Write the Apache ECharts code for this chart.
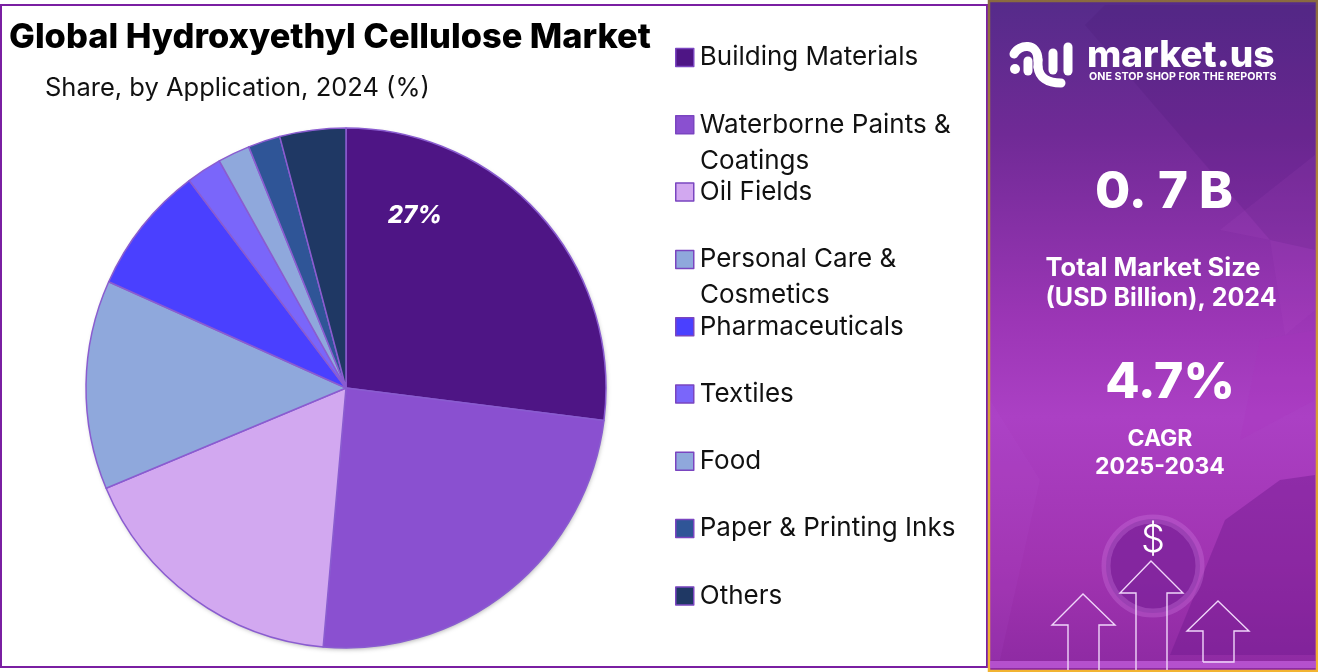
<!DOCTYPE html>
<html>
<head>
<meta charset="utf-8">
<title>Global Hydroxyethyl Cellulose Market</title>
<style>
  html, body { margin: 0; padding: 0; background: #fff; }
  #main { width: 1318px; height: 672px; }
</style>
<script src="https://cdn.jsdelivr.net/npm/echarts@6/dist/echarts.min.js"></script>
</head>
<body>
<div id="main"></div>
<script>
// share by application
const categories = ['Building Materials', 'Waterborne Paints & Coatings', 'Oil Fields', 'Personal Care & Cosmetics',
  'Pharmaceuticals', 'Textiles', 'Food', 'Paper & Printing Inks', 'Others'];
const shares = [27, 24.4, 17.3, 13, 8, 2.2, 2, 2, 4.1];
const colors = ['#4e1585', '#8a50d0', '#d2a8f0', '#8fa8dc', '#4a40ff', '#7a66fa', '#8fa8dc', '#2f5597', '#1f3864'];
const labelled = ['Building Materials'];
const legendLines = {
  'Waterborne Paints & Coatings': ['Waterborne Paints &', 'Coatings'],
  'Personal Care & Cosmetics': ['Personal Care &', 'Cosmetics']
};

const FONT = 'Inter, "Noto Sans", sans-serif';
const chart = echarts.init(document.getElementById('main'));

const shadowText = (text, x, y, size, weight) => ({
  type: 'text', x, y, z: 20,
  style: {
    text, fill: '#fff', font: weight + ' ' + size + 'px ' + FONT,
    textAlign: 'center', textVerticalAlign: 'middle',
    shadowColor: 'rgba(40,0,70,0.55)', shadowBlur: 5, shadowOffsetX: 2, shadowOffsetY: 2
  }
});
const panelShape = (points, fill) => ({ type: 'polygon', z: 2, shape: { points }, style: { fill } });
const outlineArrow = points => ({
  type: 'polyline', z: 10, shape: { points },
  style: { stroke: '#f0d6fa', lineWidth: 1.4, fill: 'none' }
});
const logoStyle = { stroke: '#fff', lineWidth: 9, lineCap: 'round', fill: 'none' };
const logoLine = (x1, y1, x2, y2) => ({ type: 'line', z: 12, shape: { x1, y1, x2, y2 }, style: logoStyle });
const logoCurve = (x1, y1, cpx1, cpy1, cpx2, cpy2, x2, y2) => ({
  type: 'bezierCurve', z: 12, shape: { x1, y1, cpx1, cpy1, cpx2, cpy2, x2, y2 }, style: logoStyle
});

const decorations = [
  // frame of the chart area
  { type: 'rect', z: 1, shape: { x: 1, y: 5, width: 986, height: 662 }, style: { fill: 'none', stroke: '#7a1fa2', lineWidth: 2 } },
  // soft shadow under the pie
  { type: 'circle', z: 1, shape: { cx: 346, cy: 388, r: 259 }, style: { fill: '#fff', shadowColor: 'rgba(0,0,0,0.35)', shadowBlur: 5, shadowOffsetX: 1, shadowOffsetY: 2 } },
  // side panel
  { type: 'rect', z: 1, shape: { x: 989, y: 1, width: 328, height: 670 },
    style: {
      stroke: new echarts.graphic.LinearGradient(0, 0, 0, 1, [
        { offset: 0, color: '#8a6a40' }, { offset: 0.5, color: '#d09a38' }, { offset: 1, color: '#f2b431' }
      ]),
      lineWidth: 2.5,
      fill: new echarts.graphic.LinearGradient(0, 0, 0, 1, [
        { offset: 0, color: '#552b8a' }, { offset: 0.2, color: '#702a96' }, { offset: 0.48, color: '#9c36b6' },
        { offset: 0.62, color: '#ab40c4' }, { offset: 0.85, color: '#a033b0' }, { offset: 1, color: '#8d2aa2' }
      ])
    } },
  panelShape([[1085, 25], [1105, 5], [1315, 5], [1315, 250], [1270, 240]], 'rgba(70,20,110,0.16)'),
  panelShape([[1220, 230], [1315, 155], [1315, 310], [1285, 335], [1270, 240]], 'rgba(190,90,210,0.10)'),
  panelShape([[1240, 440], [1315, 400], [1315, 330], [1260, 340]], 'rgba(170,50,190,0.2)'),
  panelShape([[1170, 655], [1225, 520], [1280, 480], [1315, 475], [1315, 655]], 'rgba(110,25,140,0.42)'),
  panelShape([[1000, 660], [1040, 480], [990, 400], [990, 660]], 'rgba(190,90,220,0.10)'),
  { type: 'circle', z: 3, shape: { cx: 1153, cy: 566, r: 47 }, style: { fill: 'rgba(125,35,155,0.8)', stroke: 'rgba(205,120,225,0.32)', lineWidth: 9 } },
  { type: 'rect', z: 9, shape: { x: 990, y: 661, width: 326, height: 7 }, style: { fill: 'rgba(190,90,215,0.8)' } },
  // logo
  { type: 'circle', z: 12, shape: { cx: 1015, cy: 69, r: 5 }, style: { fill: '#fff' } },
  logoCurve(1014, 54, 1019, 44, 1038, 42, 1038, 60),
  logoLine(1038, 60, 1038, 67),
  logoCurve(1038, 67, 1039, 77, 1047, 83, 1061, 83),
  logoLine(1028, 61, 1028, 71),
  logoLine(1053, 53, 1053, 70),
  logoLine(1068, 47, 1068, 71),
  { type: 'text', z: 12, x: 1087, y: 56, style: { text: 'market.us', fill: '#fff', font: '800 37px ' + FONT, textAlign: 'left', textVerticalAlign: 'middle' } },
  { type: 'text', z: 12, x: 1089, y: 77, style: { text: 'ONE STOP SHOP FOR THE REPORTS', fill: '#fff', font: '700 10.7px ' + FONT, textAlign: 'left', textVerticalAlign: 'middle' } },
  // figures
  shadowText('0. 7 B', 1164, 193, 51, 800),
  shadowText('Total Market Size', 1153, 268, 25.5, 700),
  shadowText('(USD Billion), 2024', 1161, 298, 25, 700),
  shadowText('4.7%', 1170, 383, 50, 800),
  shadowText('CAGR', 1160, 439, 23, 700),
  shadowText('2025-2034', 1160, 467, 23, 700),
  { type: 'text', z: 12, x: 1153, y: 541, style: { text: '$', fill: '#fff', font: '300 38px ' + FONT, textAlign: 'center', textVerticalAlign: 'middle' } },
  outlineArrow([[1068, 670], [1068, 625], [1052, 625], [1083, 594], [1115, 625], [1099, 625], [1099, 670]]),
  outlineArrow([[1136, 670], [1136, 593], [1120, 593], [1151, 561], [1183, 593], [1167, 593], [1167, 670]]),
  outlineArrow([[1203, 662], [1203, 631], [1187, 631], [1218, 601], [1249, 631], [1234, 631], [1234, 662], [1203, 662]])
];

// continuation lines of the two long legend names
const legendMid = 57.5, legendStep = 67.3, legendFont = 26;
categories.forEach((name, i) => {
  if (legendLines[name]) {
    decorations.push({
      type: 'text', z: 5, x: 700, y: legendMid + legendStep * i + 36,
      style: { text: legendLines[name][1], fill: '#111', font: '400 ' + legendFont + 'px ' + FONT, textAlign: 'left', textVerticalAlign: 'middle' }
    });
  }
});

chart.setOption({
  animation: false,
  backgroundColor: '#fff',
  color: colors,
  title: [{
    text: 'Global Hydroxyethyl Cellulose Market',
    left: 9, top: 21, padding: 0,
    textStyle: { fontFamily: FONT, fontSize: 34.4, fontWeight: 800, color: '#000' }
  }, {
    text: 'Share, by Application, 2024 (%)',
    left: 45, top: 75, padding: 0,
    textStyle: { fontFamily: FONT, fontSize: 25.5, fontWeight: 400, color: '#111' }
  }],
  legend: {
    orient: 'vertical',
    left: 675, top: legendMid - 13, padding: 0,
    itemWidth: 18, itemHeight: 18,
    itemGap: legendStep - 26,
    icon: 'rect',
    data: categories,
    formatter: name => legendLines[name] ? legendLines[name][0] : name,
    textStyle: { fontFamily: FONT, fontSize: legendFont, lineHeight: 26, color: '#111', padding: [0, 0, 0, 1] },
    itemStyle: { borderColor: '#7a45c0', borderWidth: 1.5 }
  },
  series: [{
    type: 'pie',
    center: [346, 388],
    radius: [0, 260],
    startAngle: 90,
    clockwise: true,
    silent: true,
    itemStyle: { borderColor: '#8a5cd0', borderWidth: 1.5 },
    labelLine: { show: false },
    data: categories.map((name, i) => ({
      name,
      value: shares[i],
      label: labelled.includes(name)
        ? { show: true, position: 'inside', offset: [-31, -84], formatter: '{c}%', color: '#fff',
            fontFamily: FONT, fontStyle: 'italic', fontWeight: 800, fontSize: 24 }
        : { show: false }
    }))
  }],
  graphic: decorations
});
</script>
</body>
</html>
